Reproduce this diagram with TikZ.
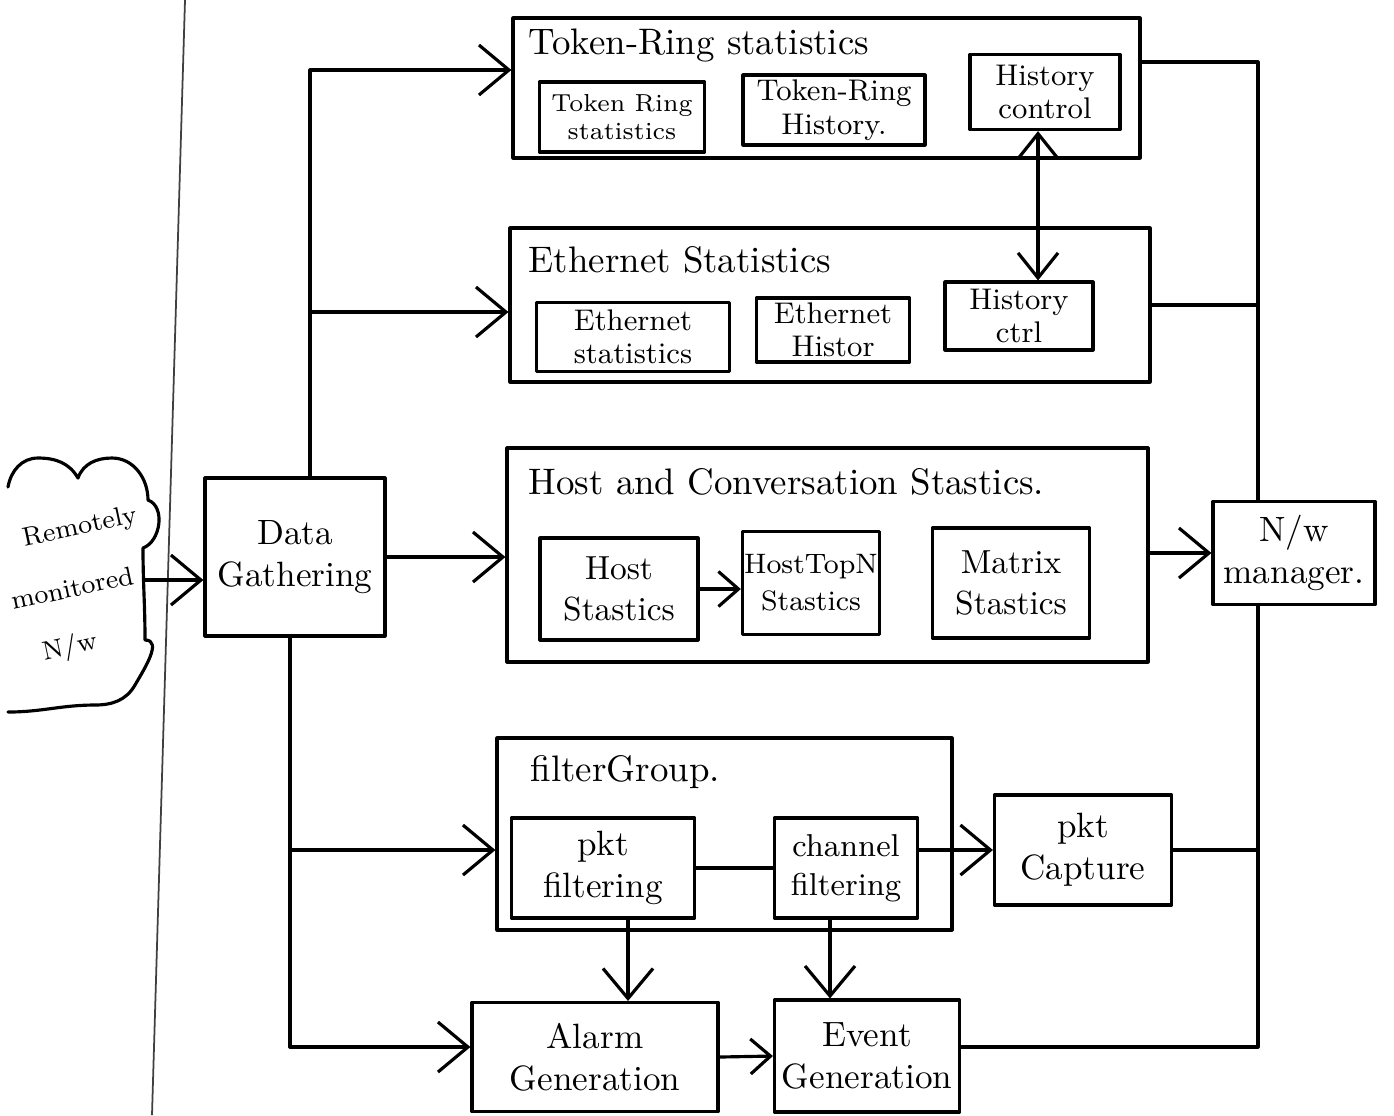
\documentclass[tikz,border=0pt]{standalone}
\usetikzlibrary{arrows.meta,fit}
\begin{document}
\begin{tikzpicture}[x=0.1mm,y=-0.1mm,
  pen/.style={line width=0.9pt, line cap=round, line join=round},
  box/.style={draw, pen, rectangle, inner sep=0.5pt, align=center,
    font=\fontsize{8.5}{9.5}\selectfont},
  big/.style={font=\fontsize{10}{12}\selectfont},
  sz/.style 2 args={minimum width=#1mm, minimum height=#2mm},
  group/.style={draw, pen, rectangle, inner sep=0pt},
  title/.style={anchor=west, inner sep=0pt, font=\fontsize{10.5}{12}\selectfont},
  cloudtext/.style={rotate=12, inner sep=0pt, font=\fontsize{7.5}{9}\selectfont},
  arr/.style={pen, -{Straight Barb[length=3mm,width=5mm]}},
  sarr/.style={pen, -{Straight Barb[length=2mm,width=3.5mm]}},
  dblarr/.style={pen, {Straight Barb[length=2.5mm,width=4mm]}-{Straight Barb[length=2.5mm,width=4mm]}},
]
\useasboundingbox (0,0) rectangle (1394,1115);
\fill[white] (0,0) rectangle (1394,1115);

% page margin line
\draw[line width=0.5pt, black!75] (185,0) -- (152,1115);

% remote network cloud
\draw[pen] (8,487) to[out=80,in=180] (38,458) to[out=0,in=120] (78,478)
  to[out=70,in=180] (112,458) to[out=0,in=90] (148,500)
  to[out=-20,in=20] (143,548) to[out=-90,in=90] (145,640)
  to[out=0,in=60] (135,685) to[out=-120,in=0] (95,705) to[out=180,in=0] (8,712);
\node[cloudtext] (cl1) at (80,528) {Remotely};
\node[cloudtext] (cl2) at (72,588) {monitored};
\node[cloudtext] (cl3) at (70,648) {N/w};
\coordinate (cloudR) at (145,580);

% data gathering
\node[box, big, sz={18}{15.8}] (dg) at (295,557) {Data\\Gathering};

% token-ring statistics group
\node[group, fit={(513,18) (1140,158)}] (tr) {};
\node[title] (trT) at (528,45) {Token-Ring statistics};
\node[box, sz={16.5}{7}, font=\fontsize{7}{8}\selectfont] (trs) at (622,117) {Token Ring\\statistics};
\node[box, sz={18.2}{7}] (trh) at (834,110) {Token-Ring\\History.};
\node[box, sz={15}{7.5}] (hctl) at (1045,92) {History\\control};

% ethernet statistics group
\node[group, fit={(510,228) (1150,382)}] (eth) {};
\node[title] (ethT) at (528,260) {Ethernet Statistics};
\node[box, sz={19.3}{6.9}] (es) at (633,337) {Ethernet\\statistics};
\node[box, sz={15.3}{6.4}] (eh) at (833,330) {Ethernet\\Histor};
\node[box, sz={14.8}{6.8}] (hctrl) at (1019,316) {History\\ctrl};

% host and conversation group
\node[group, fit={(507,448) (1148,662)}] (hc) {};
\node[title] (hcT) at (528,482) {Host and Conversation Stastics.};
\node[box, sz={15.8}{10.2}, font=\fontsize{9.5}{11.5}\selectfont] (hs) at (619,589) {Host\\Stastics};
\node[box, sz={13.3}{10.3}, font=\fontsize{8}{10.5}\selectfont] (htn) at (811,583) {HostTopN\\Stastics};
\node[box, sz={15.7}{11}, font=\fontsize{9.5}{11.5}\selectfont] (ms) at (1011,583) {Matrix\\Stastics};

% network manager
\node[box, big, sz={16.2}{10.3}] (nm) at (1294,553) {N/w\\manager.};

% filter group
\node[group, fit={(497,738) (952,930)}] (fg) {};
\node[title] (fgT) at (530,772) {filterGroup.};
\node[box, big, sz={18.3}{10}] (pf) at (603,868) {pkt\\filtering};
\node[box, sz={14.3}{10}, font=\fontsize{9}{11}\selectfont] (cf) at (846,868) {channel\\filtering};
\node[box, big, sz={17.7}{11}] (pc) at (1083,850) {pkt\\Capture};

% generation blocks
\node[box, big, sz={24.6}{10.9}] (ag) at (595,1057) {Alarm\\Generation};
\node[box, big, sz={18.5}{11.2}] (eg) at (867,1056) {Event\\Generation};

% input side
\draw[arr] (cloudR) -- (cloudR -| dg.west);

% upper distribution bus
\coordinate (b1) at (310,70);
\coordinate (b2) at (310,312);
\draw[arr] (dg.north -| b1) -- (b1) -- (b1 -| tr.west);
\draw[arr] (b2) -- (b2 -| eth.west);
\draw[arr] (dg.east) -- (dg.east -| hc.west);

% lower distribution bus
\coordinate (b3) at (290,850);
\coordinate (b4) at (290,1047);
\draw[pen] (dg.south -| b3) -- (b4);
\draw[arr] (b3) -- (b3 -| fg.west);
\draw[arr] (b4) -- (b4 -| ag.west);

% history link between groups
\coordinate (hx) at (1038,0);
\draw[dblarr] (hctl.south -| hx) -- (hctrl.north -| hx);

% inside host group
\draw[sarr] (hs.east) -- (hs.east -| htn.west);

% outputs to the manager
\draw[arr] (hc.east |- nm.west) -- (nm.west);
\coordinate (r1) at (1258,62);
\coordinate (r2) at (1258,305);
\draw[pen] (r1 -| tr.east) -- (r1) -- (r1 |- nm.north);
\draw[pen] (r2 -| eth.east) -- (r2);

% lower return bus
\coordinate (r3) at (1258,850);
\coordinate (r4) at (1258,1047);
\draw[pen] (nm.south -| r4) -- (r4) -- (r4 -| eg.east);
\draw[pen] (pc.east |- r3) -- (r3);

% filter group flows
\draw[pen] (pf.east) -- (cf.west);
\draw[arr] (pc.west -| cf.east) -- (pc.west);
\coordinate (fx1) at (628,0);
\coordinate (fx2) at (830,0);
\draw[arr] (pf.south -| fx1) -- (ag.north -| fx1);
\draw[arr] (cf.south -| fx2) -- (eg.north -| fx2);
\draw[sarr] (ag.east) -- (eg.west);
\end{tikzpicture}
\end{document}
